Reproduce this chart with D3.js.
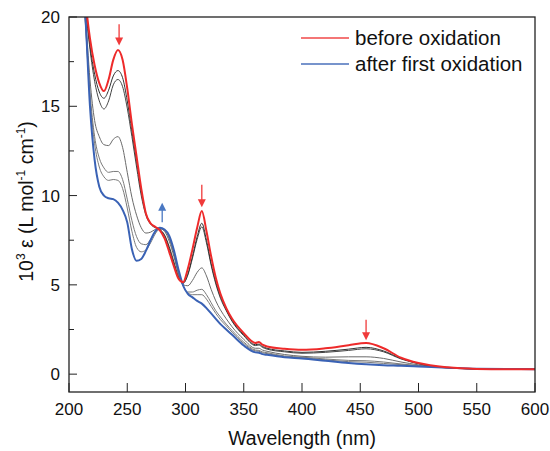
<!DOCTYPE html>
<html>
<head>
<meta charset="utf-8">
<script src="https://cdn.jsdelivr.net/npm/d3@7"></script>
<style>
  body { margin: 0; background: #fff; }
  text { font-family: "Liberation Sans", Arial, sans-serif; fill: #111; }
</style>
</head>
<body>
<div id="chart"></div>
<script>
// wavelengths (nm) shared by every spectrum
var wavelengths = [210, 214, 218, 222, 226, 230, 234, 238, 242, 246, 250, 254, 258, 262, 266, 270, 274, 278, 282, 286,
  290, 294, 298, 302, 306, 310, 314, 318, 322, 326, 330, 335, 340, 350, 360, 363, 366, 370, 385, 400,
  420, 440, 455, 470, 485, 500, 525, 550, 575, 600];

// 10^3 epsilon values
var beforeOx = [24, 21, 18.8, 17.3, 16.3, 15.85, 16.5, 17.6, 18.15, 17.6, 16.0, 14.0, 12.2, 10.4, 9.0, 8.45, 8.25, 8.05, 7.6, 6.85,
  6.05, 5.35, 5.15, 5.9, 7.0, 8.2, 9.13, 8.0, 6.6, 5.4, 4.5, 3.7, 3.1, 2.3, 1.75, 1.8, 1.65, 1.55, 1.42, 1.36,
  1.45, 1.62, 1.74, 1.45, 0.92, 0.62, 0.38, 0.29, 0.27, 0.28];

var step1 = [24, 20.8, 18.4, 16.8, 15.8, 15.45, 15.9, 16.7, 17.0, 16.6, 15.3, 13.6, 11.9, 10.2, 9.0, 8.45, 8.25, 8.1, 7.75, 7.05,
  6.2, 5.4, 5.1, 5.6, 6.6, 7.7, 8.45, 7.5, 6.2, 5.15, 4.35, 3.6, 3.0, 2.2, 1.65, 1.68, 1.55, 1.45, 1.3, 1.22,
  1.28, 1.4, 1.5, 1.3, 0.88, 0.6, 0.37, 0.29, 0.27, 0.28];

var step2 = [24, 20.7, 18.2, 16.4, 15.3, 14.85, 15.3, 16.2, 16.5, 16.1, 14.9, 13.3, 11.6, 10.0, 8.9, 8.4, 8.2, 8.1, 7.8, 7.15,
  6.3, 5.45, 5.1, 5.55, 6.5, 7.55, 8.25, 7.35, 6.1, 5.05, 4.25, 3.55, 2.95, 2.15, 1.6, 1.63, 1.5, 1.4, 1.25, 1.17,
  1.22, 1.33, 1.42, 1.25, 0.85, 0.58, 0.37, 0.29, 0.27, 0.28];

var step3 = [23.8, 20.3, 16.5, 14.2, 13.3, 12.85, 12.8, 13.15, 13.3, 12.7, 11.3, 9.9, 8.9, 8.2, 7.9, 7.95, 8.1, 8.15, 8.0, 7.45,
  6.6, 5.6, 5.0, 4.95, 5.25, 5.7, 5.95, 5.5, 4.75, 4.1, 3.6, 3.1, 2.65, 1.95, 1.45, 1.45, 1.35, 1.28, 1.1, 1.0,
  0.95, 0.97, 0.97, 0.88, 0.68, 0.52, 0.36, 0.29, 0.27, 0.28];

var step4 = [23.5, 19.8, 15.8, 13.3, 12.1, 11.55, 11.3, 11.35, 11.35, 10.9, 9.8, 8.6, 7.7, 7.3, 7.25, 7.55, 7.95, 8.15, 8.05, 7.6,
  6.75, 5.7, 4.95, 4.6, 4.6, 4.7, 4.75, 4.45, 4.0, 3.55, 3.2, 2.8, 2.45, 1.8, 1.35, 1.33, 1.25, 1.2, 1.02, 0.95,
  0.85, 0.77, 0.75, 0.68, 0.57, 0.48, 0.35, 0.29, 0.27, 0.28];

var step5 = [23.5, 19.7, 15.5, 12.9, 11.6, 11.05, 10.85, 10.9, 10.85, 10.4, 9.3, 8.0, 7.1, 6.85, 6.95, 7.35, 7.85, 8.15, 8.1, 7.65,
  6.8, 5.75, 4.95, 4.55, 4.45, 4.45, 4.45, 4.2, 3.8, 3.4, 3.05, 2.7, 2.35, 1.72, 1.3, 1.28, 1.2, 1.15, 0.98, 0.92,
  0.8, 0.7, 0.67, 0.6, 0.53, 0.46, 0.35, 0.29, 0.27, 0.28];

var afterOx = [23, 20.1, 15.0, 12.0, 10.5, 10.0, 9.85, 9.8, 9.6, 9.2, 8.5, 7.0, 6.35, 6.45, 6.9, 7.5, 8.0, 8.2, 8.1, 7.75,
  6.95, 5.85, 4.95, 4.5, 4.3, 4.1, 3.95, 3.7, 3.4, 3.1, 2.8, 2.5, 2.2, 1.6, 1.22, 1.2, 1.12, 1.08, 0.95, 0.88,
  0.75, 0.62, 0.55, 0.5, 0.47, 0.43, 0.36, 0.3, 0.29, 0.28];

var xTicks = [200, 250, 300, 350, 400, 450, 500, 550, 600];
var yTicks = [0, 5, 10, 15, 20];
var yMinorTicks = [2.5, 7.5, 12.5, 17.5];

var legendLabels = ["before oxidation", "after first oxidation"];

// arrows: wavelength, tail value, head value
var arrowWl = [243, 314, 455, 280];
var arrowFrom = [19.6, 10.6, 3.05, 8.5];
var arrowTo = [18.4, 9.35, 1.9, 9.6];

// margins and svg
var margin = { top: 17, right: 15, bottom: 59, left: 69 };
var width = 550 - margin.left - margin.right;
var height = 451 - margin.top - margin.bottom;

var svg = d3
  .select("#chart")
  .append("svg")
  .attr("width", 550)
  .attr("height", 451)
  .append("g")
  .attr("transform", "translate(" + margin.left + "," + margin.top + ")");

var x = d3.scaleLinear().domain([200, 600]).range([0, width]);
var y = d3.scaleLinear().domain([-1, 20]).range([height, 0]);

svg
  .append("clipPath")
  .attr("id", "clip")
  .append("rect")
  .attr("width", width)
  .attr("height", height);

var line = d3
  .line()
  .x(function(d) { return x(d[0]); })
  .y(function(d) { return y(d[1]); })
  .curve(d3.curveMonotoneX);

function pairs(vals) {
  return wavelengths.map(function(w, i) { return [w, vals[i]]; });
}

var series = [
  { vals: step5, color: "#7a7a7a", w: 1 },
  { vals: step4, color: "#7a7a7a", w: 1 },
  { vals: step3, color: "#6a6a6a", w: 1 },
  { vals: step2, color: "#444", w: 1 },
  { vals: step1, color: "#333", w: 1 },
  { vals: afterOx, color: "#3a62b5", w: 2 },
  { vals: beforeOx, color: "#ee2a2a", w: 2 }
];

var plot = svg.append("g").attr("clip-path", "url(#clip)");

plot
  .selectAll(".spec")
  .data(series)
  .enter()
  .append("path")
  .attr("class", "spec")
  .attr("d", function(d) { return line(pairs(d.vals)); })
  .attr("fill", "none")
  .attr("stroke", function(d) { return d.color; })
  .attr("stroke-width", function(d) { return d.w; })
  .attr("stroke-linejoin", "round");

// arrows
arrowWl.forEach(function(w, i) {
  var col = i === 3 ? "#4a78c2" : "#f03a3a";
  var x0 = x(w), y0 = y(arrowFrom[i]), y1 = y(arrowTo[i]);
  var dir = y1 > y0 ? 1 : -1;
  svg.append("line")
    .attr("x1", x0).attr("x2", x0)
    .attr("y1", y0).attr("y2", y1 - dir * 6)
    .attr("stroke", col)
    .attr("stroke-width", 1.3);
  svg.append("path")
    .attr("d", "M" + (x0 - 4) + "," + (y1 - dir * 8) + "L" + x0 + "," + y1 + "L" + (x0 + 4) + "," + (y1 - dir * 8) + "Z")
    .attr("fill", col);
});

// ticks (inward)
svg
  .selectAll(".xtick")
  .data(xTicks)
  .enter()
  .append("line")
  .attr("x1", function(d) { return x(d); })
  .attr("x2", function(d) { return x(d); })
  .attr("y1", height)
  .attr("y2", height - 9)
  .attr("stroke", "#222");

svg
  .selectAll(".ytick")
  .data(yTicks)
  .enter()
  .append("line")
  .attr("x1", 0)
  .attr("x2", 8)
  .attr("y1", function(d) { return y(d); })
  .attr("y2", function(d) { return y(d); })
  .attr("stroke", "#222");

svg
  .selectAll(".yminor")
  .data(yMinorTicks)
  .enter()
  .append("line")
  .attr("x1", 0)
  .attr("x2", 5)
  .attr("y1", function(d) { return y(d); })
  .attr("y2", function(d) { return y(d); })
  .attr("stroke", "#222");

// tick labels
svg
  .selectAll(".xlab")
  .data(xTicks)
  .enter()
  .append("text")
  .attr("x", function(d) { return x(d); })
  .attr("y", height + 23)
  .attr("text-anchor", "middle")
  .style("font-size", "17px")
  .text(function(d) { return d; });

svg
  .selectAll(".ylab")
  .data(yTicks)
  .enter()
  .append("text")
  .attr("x", -9)
  .attr("y", function(d) { return y(d) + 6; })
  .attr("text-anchor", "end")
  .style("font-size", "17px")
  .text(function(d) { return d; });

// frame
svg
  .append("rect")
  .attr("width", width)
  .attr("height", height)
  .attr("fill", "none")
  .attr("stroke", "#222")
  .attr("stroke-width", 1.3);

// axis titles
svg
  .append("text")
  .attr("x", width / 2)
  .attr("y", height + 53)
  .attr("text-anchor", "middle")
  .style("font-size", "19.5px")
  .text("Wavelength (nm)");

var yTitle = svg
  .append("text")
  .attr("transform", "translate(-36," + (height / 2 - 3) + ") rotate(-90)")
  .attr("text-anchor", "middle")
  .style("font-size", "19.5px");
yTitle.append("tspan").text("10");
yTitle.append("tspan").attr("dy", -8).style("font-size", "12px").text("3");
yTitle.append("tspan").attr("dy", 8).text(" \u03b5 (L mol");
yTitle.append("tspan").attr("dy", -8).style("font-size", "12px").text("-1");
yTitle.append("tspan").attr("dy", 8).text(" cm");
yTitle.append("tspan").attr("dy", -8).style("font-size", "12px").text("-1");
yTitle.append("tspan").attr("dy", 8).text(")");

// legend
var legend = svg
  .selectAll(".legend")
  .data(legendLabels)
  .enter()
  .append("g")
  .attr("transform", function(d, i) { return "translate(232," + (21 + i * 26) + ")"; });

legend
  .append("line")
  .attr("x1", 0)
  .attr("x2", 48)
  .attr("stroke", function(d, i) { return i === 0 ? "#f04848" : "#4a70bb"; })
  .attr("stroke-width", 1.5);

legend
  .append("text")
  .attr("x", 54)
  .attr("y", 7)
  .style("font-size", "20.5px")
  .text(function(d) { return d; });
</script>
</body>
</html>
